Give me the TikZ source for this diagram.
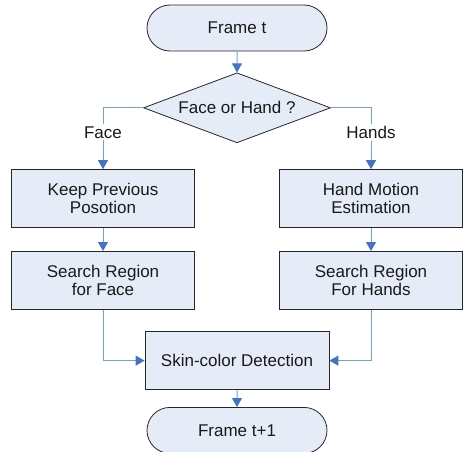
\documentclass[tikz,border=0pt]{standalone}
\usepackage{fontspec}
\setmainfont{Liberation Sans}
\usepackage{tikz}
\usetikzlibrary{arrows.meta, positioning, shapes.geometric, shapes.misc}
\definecolor{colorFill}{RGB}{230,236,247}
\definecolor{colorLine}{RGB}{120,158,214}
\definecolor{colorTip}{RGB}{68,114,196}
\tikzset{
  block/.style={draw=black!85, fill=colorFill, line width=0.8pt, rectangle, minimum width=183pt, minimum height=58pt, align=center, inner sep=2pt},
  terminal/.style={draw=black!85, fill=colorFill, line width=0.8pt, rounded rectangle, minimum width=184pt, minimum height=46pt, inner sep=2pt},
  decision/.style={draw=black!85, fill=colorFill, line width=0.8pt, diamond, aspect=2.67, minimum width=187pt, minimum height=70pt, inner sep=0pt},
  flow/.style={draw=colorLine, line width=1pt, -{Triangle[width=10pt, length=9pt, color=colorTip]}},
  branch/.style={fill=white, inner sep=2pt}
}

\begin{document}
\begin{tikzpicture}[font=\fontsize{17}{18.5}\selectfont, text=black!90]
\useasboundingbox (0,0) rectangle (463pt,-451pt);
\node[terminal] (ft) at (237pt,-28pt) {Frame t};
\node[decision, below=21pt of ft] (q) {Face or Hand ?};
\node[block, below=26pt of q, xshift=-134pt] (keep) {Keep Previous\\Posotion};
\node[block, below=26pt of q, xshift=134pt] (hme) {Hand Motion\\Estimation};
\node[block, below=23pt of keep] (sface) {Search Region\\for Face};
\node[block, below=23pt of hme] (shands) {Search Region\\For Hands};
\node[block, minimum width=184pt, below=188pt of q] (skin) {Skin-color Detection};
\node[terminal, below=17pt of skin] (ft1) {Frame t+1};
\draw[flow] (ft) -- (q);
\draw[flow] (q.west) -| node[branch, pos=0.7] {Face} (keep);
\draw[flow] (q.east) -| node[branch, pos=0.7] {Hands} (hme);
\draw[flow] (keep) -- (sface);
\draw[flow] (hme) -- (shands);
\draw[flow] (sface) |- (skin);
\draw[flow] (shands) |- (skin);
\draw[flow] (skin) -- (ft1);
\end{tikzpicture}
\end{document}
